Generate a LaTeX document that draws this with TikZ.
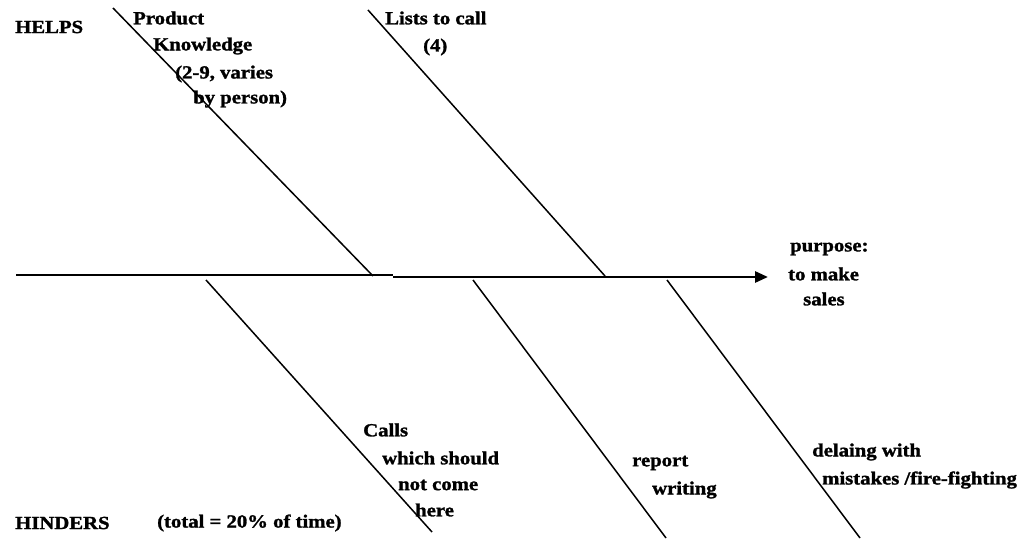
\documentclass[tikz,border=0pt]{standalone}
\usepackage{fontspec}
\setmainfont{Liberation Serif}[FakeStretch=1.12, BoldFeatures={FakeBold=1.5}]
\usetikzlibrary{arrows.meta}
\tikzset{
  lbl/.style={anchor=west, inner sep=0pt, font=\fontsize{18.5}{20}\selectfont\bfseries},
  bone/.style={line width=1.5pt},
  spine/.style={line width=2.8pt}
}
\begin{document}
\begin{tikzpicture}[x=1pt,y=-1pt]
\useasboundingbox (0,0) rectangle (1021,540);
% spine
\coordinate (s0) at (16,275);
\coordinate (s1) at (393,275);
\coordinate (s2) at (393,277);
\coordinate (s3) at (768,277);
\draw[spine] (s0) -- (s1);
\draw[spine, -{Triangle[length=13pt,width=11pt]}] (s2) -- (s3);
% top bones
\coordinate (t1a) at (113,8);   \coordinate (t1b) at (373,276);
\coordinate (t2a) at (368,10);  \coordinate (t2b) at (605,276);
\draw[bone] (t1a) -- (t1b);
\draw[bone] (t2a) -- (t2b);
% bottom bones
\coordinate (b1a) at (206,280); \coordinate (b1b) at (432,532);
\coordinate (b2a) at (473,280); \coordinate (b2b) at (666,538);
\coordinate (b3a) at (667,280); \coordinate (b3b) at (860,538);
\draw[bone] (b1a) -- (b1b);
\draw[bone] (b2a) -- (b2b);
\draw[bone] (b3a) -- (b3b);
% labels
\node[lbl] (helps) at (15,27) {HELPS};
\node[lbl] (hinders) at (15,523) {HINDERS};
\node[lbl] (total) at (157,523) {(total = 20\% of time)};
\node[lbl] (pk1) at (133,18) {Product};
\node[lbl] (pk2) at (153,46) {Knowledge};
\node[lbl] (pk3) at (175,74) {(2-9, varies};
\node[lbl] (pk4) at (193,99) {by person)};
\node[lbl] (lc1) at (385,18) {Lists to call};
\node[lbl] (lc2) at (423,47) {(4)};
\node[lbl] (pu1) at (790,249) {purpose:};
\node[lbl] (pu2) at (788,274) {to make};
\node[lbl] (pu3) at (803,299) {sales};
\node[lbl] (ca1) at (363,430) {Calls};
\node[lbl] (ca2) at (382,458) {which should};
\node[lbl] (ca3) at (398,485) {not come};
\node[lbl] (ca4) at (415,510) {here};
\node[lbl] (rw1) at (632,463) {report};
\node[lbl] (rw2) at (652,490) {writing};
\node[lbl] (dm1) at (812,452) {delaing with};
\node[lbl] (dm2) at (822,480) {mistakes /fire-fighting};
\end{tikzpicture}
\end{document}
